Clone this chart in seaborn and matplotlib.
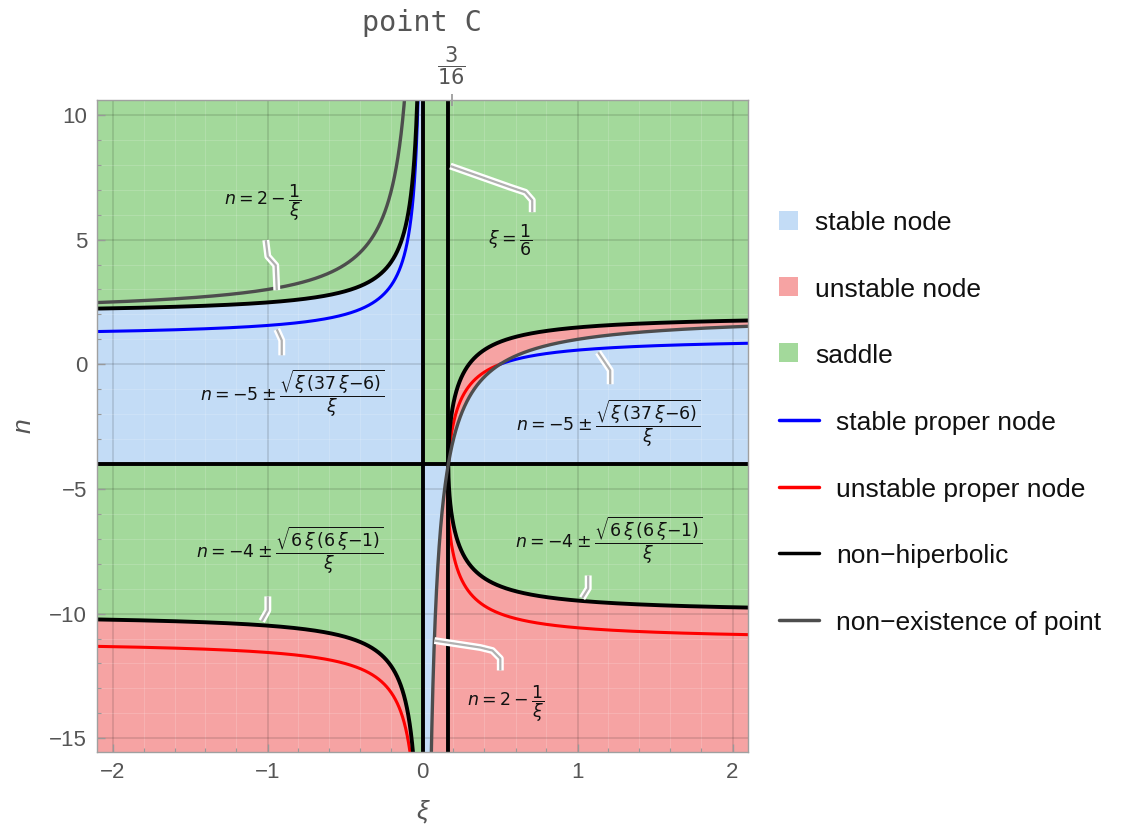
import numpy as np
import pandas as pd
import matplotlib
matplotlib.use("Agg")
import matplotlib.pyplot as plt
from matplotlib.colors import to_rgb
from matplotlib.patches import Rectangle
from matplotlib.lines import Line2D
import seaborn as sns

# plot window
xi_range = [-2.1, 2.1]
n_range = [-15.55, 10.6]

# curve constants
gray_c = [2, 1]           # n = 2 - 1/xi
black_c = [-4, 6, 6, 1]   # n = -4 +- sqrt(6 xi (6 xi - 1)) / xi
proper_c = [-5, 37, 6]    # n = -5 +- sqrt(xi (37 xi - 6)) / xi
black_vlines = [0, 1 / 6]
black_hline = -4
top_tick = 3 / 16

region_names = ["stable node", "unstable node", "saddle"]
region_colors = ["#c3dcf6", "#f6a3a3", "#a3d99b"]
line_names = ["stable proper node", "unstable proper node",
              "non\u2212hiperbolic", "non\u2212existence of point"]
line_colors = ["#0000ff", "#ff0000", "#000000", "#4d4d4d"]
line_widths = [2.2, 2.2, 2.8, 2.4]

# formula labels: (xi, n, text)
labels = [
    (-1.03, 6.46, r"$n = 2 - \dfrac{1}{\xi}$"),
    (0.567, 4.98, r"$\xi = \dfrac{1}{6}$"),
    (-0.837, -1.16, r"$n = -5 \pm \dfrac{\sqrt{\xi\,(37\,\xi{-}6)}}{\xi}$"),
    (1.198, -2.37, r"$n = -5 \pm \dfrac{\sqrt{\xi\,(37\,\xi{-}6)}}{\xi}$"),
    (-0.856, -7.46, r"$n = -4 \pm \dfrac{\sqrt{6\,\xi\,(6\,\xi{-}1)}}{\xi}$"),
    (1.204, -7.06, r"$n = -4 \pm \dfrac{\sqrt{6\,\xi\,(6\,\xi{-}1)}}{\xi}$"),
    (0.541, -13.6, r"$n = 2 - \dfrac{1}{\xi}$"),
]
# callout leaders (xi list, n list)
leaders = [
    ([-1.011, -0.998, -0.947, -0.940], [4.98, 4.33, 3.97, 2.97]),
    ([0.708, 0.708, 0.663, 0.567, 0.180], [6.10, 6.58, 6.90, 7.10, 7.95]),
    ([-0.908, -0.908, -0.940], [0.36, 0.96, 1.40]),
    ([1.211, 1.211, 1.133], [-0.80, -0.24, 0.48]),
    ([-0.998, -0.998, -1.037], [-9.31, -9.87, -10.30]),
    ([1.069, 1.069, 1.030], [-8.47, -8.99, -9.38]),
    ([0.502, 0.502, 0.451, 0.373, 0.077], [-12.28, -11.80, -11.48, -11.36, -11.08]),
]


def gray_curve(x):
    return gray_c[0] - gray_c[1] / x


def black_curve(x, s):
    return black_c[0] + s * np.sqrt(black_c[1] * x * (black_c[2] * x - black_c[3])) / x


def proper_curve(x, s):
    return proper_c[0] + s * np.sqrt(x * (proper_c[1] * x - proper_c[2])) / x


sns.set_theme(style="white")
plt.rcParams["font.family"] = ["Liberation Sans", "DejaVu Sans"]
plt.rcParams["mathtext.fontset"] = "dejavusans"

fig = plt.figure(figsize=(11.21, 8.38), dpi=100)
ax = fig.add_axes([97 / 1121, 1 - 752 / 838, 651 / 1121, 652 / 838])

# regions
gx = np.linspace(xi_range[0], xi_range[1], 2100)
gy = np.linspace(n_range[0], n_range[1], 1400)
X, Y = np.meshgrid(gx, gy)
with np.errstate(all="ignore"):
    D = (Y - black_c[0]) ** 2 - black_c[1] * (black_c[2] * X - black_c[3]) / X
    saddle = D * (Y - black_hline) > 0
    stable = (Y - gray_curve(X)) * (Y - black_hline) < 0
cols = [np.array(to_rgb(c)) for c in region_colors]
img = np.where(saddle[..., None], cols[2], np.where(stable[..., None], cols[0], cols[1]))
ax.imshow(img, origin="lower", extent=[*xi_range, *n_range], aspect="auto",
          interpolation="nearest", zorder=0)

# curves
rows = []


def add_curve(x, y, kind):
    ok = np.isfinite(y) & (np.abs(y) < 60)
    idx = np.flatnonzero(ok)
    if idx.size == 0:
        return
    for part in np.split(idx, np.flatnonzero(np.diff(idx) > 1) + 1):
        rows.append(pd.DataFrame({"xi": x[part], "n": y[part], "kind": kind, "seg": len(rows)}))


sides = [np.linspace(xi_range[0] - 0.05, -1e-5, 30000),
         np.linspace(1e-5, xi_range[1] + 0.05, 30000)]
with np.errstate(all="ignore"):
    for xs in sides:
        for s in (1, -1):
            yp = proper_curve(xs, s)
            st = (yp - gray_curve(xs)) * (yp - black_hline) < 0
            add_curve(xs, np.where(st, yp, np.nan), line_names[0])
            add_curve(xs, np.where(~st, yp, np.nan), line_names[1])
            add_curve(xs, black_curve(xs, s), line_names[2])
        add_curve(xs, gray_curve(xs), line_names[3])
for v in black_vlines:
    add_curve(np.array([v, v]), np.array([-50.0, 50.0]), line_names[2])
add_curve(np.array([-3.0, 3.0]), np.array([black_hline, black_hline], dtype=float), line_names[2])
curves = pd.concat(rows, ignore_index=True)

for kind, color, lw in zip(line_names, line_colors, line_widths):
    sub = curves[curves.kind == kind]
    sns.lineplot(data=sub, x="xi", y="n", units="seg", estimator=None, sort=False,
                 color=color, linewidth=lw, ax=ax, legend=False)

# callouts and formula labels
for lx, ly in leaders:
    ax.plot(lx, ly, color="white", lw=5, solid_joinstyle="round", solid_capstyle="butt", zorder=4)
    ax.plot(lx, ly, color="#b0b0b0", lw=1.6, solid_joinstyle="round", solid_capstyle="butt", zorder=5)
for x, y, t in labels:
    ax.text(x, y, t, ha="center", va="center", fontsize=12.5, color="#111111", zorder=6)

ax.set_xlim(xi_range)
ax.set_ylim(n_range)
ax.set_xticks([-2, -1, 0, 1, 2])
ax.set_yticks([10, 5, 0, -5, -10, -15])
ax.set_xticks(np.arange(-2, 2.01, 0.2), minor=True)
ax.set_yticks(np.arange(-15, 11, 1), minor=True)
ax.grid(True, which="major", color="black", alpha=0.13, lw=1.2)
ax.grid(True, which="minor", color="white", alpha=0.18, lw=0.6)
ax.tick_params(which="both", direction="in", color="#999999", labelcolor="#555555",
               labelsize=16, bottom=True, left=True, pad=7)
ax.tick_params(which="major", length=6, width=1)
ax.tick_params(which="minor", length=3, width=0.8)
for sp in ax.spines.values():
    sp.set_color("#a0a0a0")
    sp.set_linewidth(1)

ax.set_xlabel("ξ", fontsize=19, fontstyle="italic", color="#555555", labelpad=12)
ax.set_ylabel("n", fontsize=19, fontstyle="italic", color="#555555", labelpad=10)

top = ax.secondary_xaxis("top")
top.set_xticks([top_tick], labels=[r"$\dfrac{3}{16}$"])
top.tick_params(direction="inout", length=8, color="#999999", labelcolor="#555555",
                labelsize=15, pad=5)
top.spines["top"].set_visible(False)

fig.text(422 / 1121, 1 - 31 / 838, "point C", family="DejaVu Sans Mono", fontsize=20.5,
         color="#555555", ha="center", va="baseline")

# legend
legend_y = [220, 287, 353, 420, 487, 553, 620]
for i, (name, col) in enumerate(zip(region_names, region_colors)):
    y = legend_y[i]
    fig.add_artist(Rectangle((779 / 1121, 1 - (y + 9.5) / 838), 19 / 1121, 19 / 838,
                             transform=fig.transFigure, color=col, lw=0))
    fig.text(815 / 1121, 1 - y / 838, name, va="center_baseline", ha="left",
             fontsize=19, color="#111111")
for i, (name, col) in enumerate(zip(line_names, line_colors)):
    y = legend_y[3 + i]
    fig.add_artist(Line2D([779 / 1121, 819 / 1121], [1 - y / 838, 1 - y / 838],
                          transform=fig.transFigure, color=col, lw=2.5))
    fig.text(836 / 1121, 1 - y / 838, name, va="center_baseline", ha="left",
             fontsize=19, color="#111111")

fig.savefig("out.png", dpi=100)
